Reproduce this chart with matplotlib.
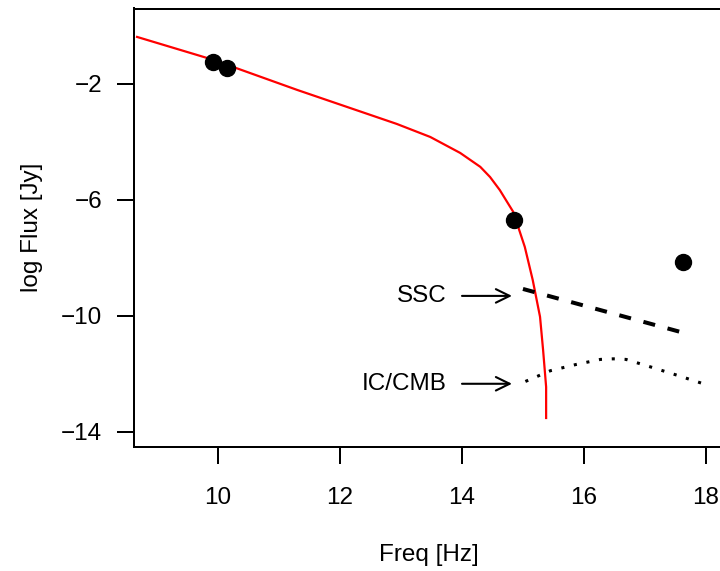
import matplotlib
matplotlib.use("Agg")
import matplotlib.pyplot as plt

plt.rcParams['font.family'] = ['Liberation Sans', 'DejaVu Sans']

# observed points
obs_freq = [9.92, 10.15, 14.85, 17.62]
obs_flux = [-1.24, -1.45, -6.69, -8.14]

# synchrotron model (red)
syn_freq = [8.67, 9.92, 11.30, 12.93, 13.48, 13.97, 14.30, 14.46, 14.62,
            14.74, 14.84, 15.03, 15.16, 15.28, 15.33, 15.38, 15.38]
syn_flux = [-0.38, -1.17, -2.21, -3.38, -3.83, -4.38, -4.86, -5.21, -5.66,
            -6.07, -6.41, -7.62, -8.76, -10.03, -11.17, -12.45, -13.52]

# SSC prediction
ssc_freq = [15.0, 17.7]
ssc_flux = [-9.07, -10.62]

# IC/CMB prediction
ic_freq = [15.04, 15.45, 15.86, 16.27, 16.48, 16.69, 17.11, 17.52, 17.93]
ic_flux = [-12.26, -11.89, -11.68, -11.50, -11.48, -11.50, -11.77, -12.04, -12.32]

fs = 17.5

fig = plt.figure(figsize=(7.2, 5.71), dpi=100)
ax = fig.add_axes([134 / 720, 1 - 447 / 571, 606 / 720, 438.5 / 571])

ax.plot(syn_freq, syn_flux, color='red', lw=1.6)
ax.plot(obs_freq, obs_flux, 'o', color='black', ms=11.5)
ax.plot(ssc_freq, ssc_flux, color='black', lw=2.9, dashes=(3, 3.2))
ax.plot(ic_freq, ic_flux, color='black', lw=2.2, dashes=(1, 3.2))

for label, y in [('SSC', -9.31), ('IC/CMB', -12.34)]:
    ax.text(13.75, y, label, ha='right', va='center', fontsize=fs)
    ax.annotate('', xy=(14.82, y), xytext=(14.0, y),
                arrowprops=dict(arrowstyle='->,head_length=0.55,head_width=0.27',
                                lw=1.5, color='black', shrinkA=0, shrinkB=0,
                                mutation_scale=18))

ax.set_xlim(8.62, 18.56)
ax.set_ylim(-14.52, 0.6)
ax.set_xticks([10, 12, 14, 16, 18])
ax.set_yticks([-2, -6, -10, -14])
ax.set_yticklabels(['\u22122', '\u22126', '\u221210', '\u221214'])

ax.tick_params(direction='out', length=12, width=1.44, labelsize=fs)
ax.tick_params(axis='x', pad=16.5)
ax.tick_params(axis='y', pad=11)
for s in ax.spines.values():
    s.set_linewidth(1.44)

ax.set_xlabel('Freq [Hz]', fontsize=fs, va='center')
ax.xaxis.set_label_coords(0.487, -0.247)
ax.set_ylabel('log Flux [Jy]', fontsize=fs, va='center')
ax.yaxis.set_label_coords(-0.168, 0.5)

fig.savefig('out.png', dpi=100)
